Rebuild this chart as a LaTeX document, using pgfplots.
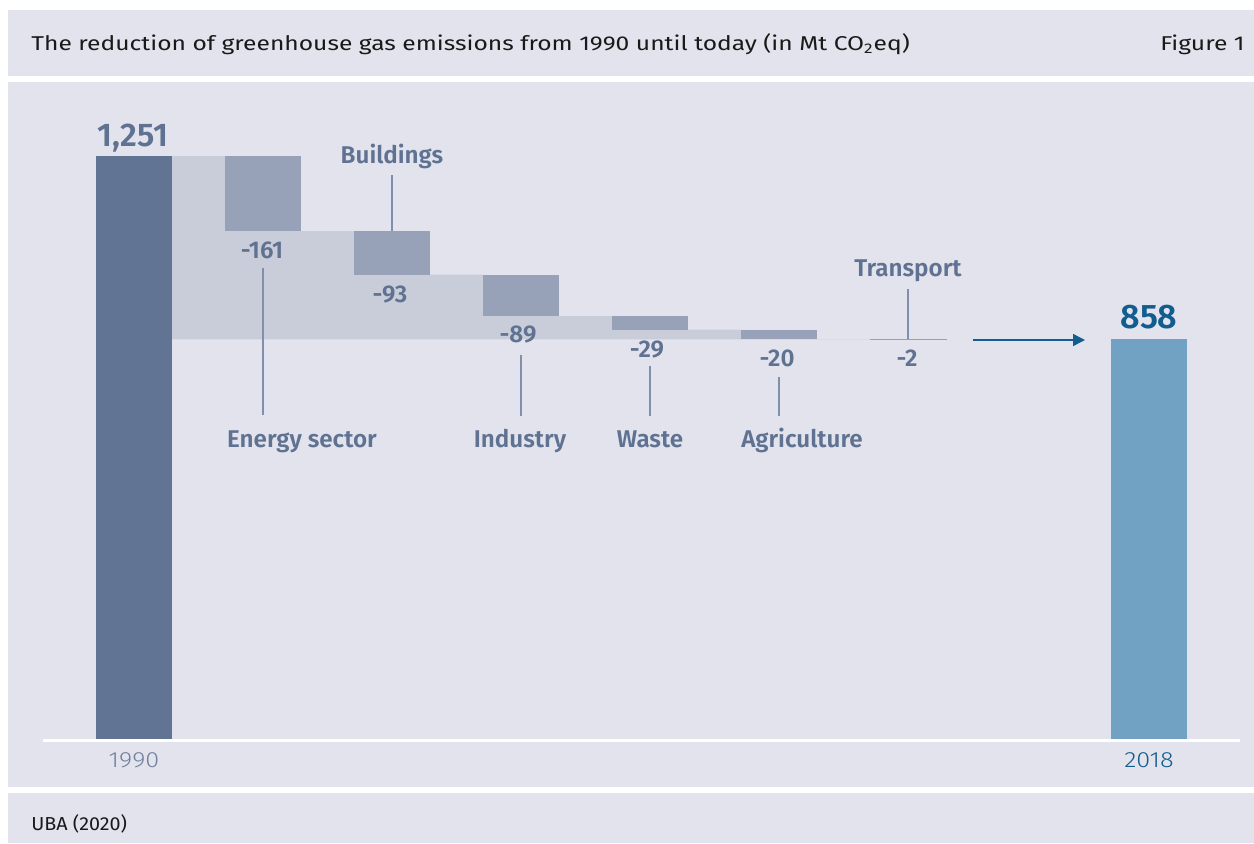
\documentclass[border=0pt]{standalone}
\usepackage{pgfplots}
\pgfplotsset{compat=1.18}
\usetikzlibrary{arrows.meta}
\usepackage{fontspec}
\setmainfont{Fira Sans}
\newfontfamily\titlefont{Fira Sans}[FakeStretch=1.23]
\newfontfamily\srcfont{Fira Sans}[FakeStretch=1.05]
\newfontfamily\lblfont{Fira Sans SemiBold}
\newfontfamily\lightfont{Fira Sans Light}[FakeStretch=1.15]
\definecolor{panel}{RGB}{226,227,236}
\definecolor{cold}{RGB}{97,116,148}
\definecolor{cchange}{RGB}{151,162,184}
\definecolor{cband}{RGB}{201,205,218}
\definecolor{cnew}{RGB}{114,162,195}
\definecolor{cdark}{RGB}{18,93,143}
\definecolor{ctext}{RGB}{95,114,146}
\definecolor{cline}{RGB}{128,143,170}
\definecolor{clight}{RGB}{112,130,160}
\begin{document}
\begin{tikzpicture}
\begin{scope}[x=0.5pt,y=-0.5pt]
\useasboundingbox (0,0) rectangle (1254,843);
\fill[white] (0,0) rectangle (1254,843);
\fill[panel] (8,10) rectangle (1254,76);
\fill[panel] (8,82) rectangle (1254,787);
\fill[panel] (8,793) rectangle (1254,843);
\node[anchor=base west, inner sep=0pt, text=black!90, font=\titlefont\fontsize{10pt}{12pt}\selectfont] at (31,50) {The reduction of greenhouse gas emissions from 1990 until today (in Mt CO\textsubscript{2}eq)};
\node[anchor=base east, inner sep=0pt, text=black!90, font=\titlefont\fontsize{10pt}{12pt}\selectfont] at (1245,50) {Figure 1};
\node[anchor=base west, inner sep=0pt, text=black!90, font=\srcfont\fontsize{9.4pt}{11pt}\selectfont] at (31,830) {UBA (2020)};
\end{scope}
\begin{axis}[
  at={(21.5pt,-370pt)}, anchor=south west,
  scale only axis, width=598.5pt, height=320pt,
  xmin=-0.7054, xmax=8.5736, ymin=0, ymax=1371,
  axis lines=none, ticks=none, clip=false]
% light band (cumulative level down to 2018 level)
\addplot[fill=cband, draw=none] coordinates {
 (0.2946,858) (0.2946,1251) (0.7054,1251) (0.7054,1090) (1.7054,1090)
 (1.7054,997) (2.7054,997) (2.7054,908) (3.7054,908) (3.7054,879)
 (4.7054,879) (4.7054,859) (5.7054,859) (5.7054,858)} -- cycle;
% 1990
\addplot[fill=cold, draw=none] coordinates {(-0.2946,0) (0.2946,0) (0.2946,1251) (-0.2946,1251)} -- cycle;
% changes
\addplot[fill=cchange, draw=none] coordinates {(0.7054,1090) (1.2946,1090) (1.2946,1251) (0.7054,1251)} -- cycle;
\addplot[fill=cchange, draw=none] coordinates {(1.7054,997) (2.2946,997) (2.2946,1090) (1.7054,1090)} -- cycle;
\addplot[fill=cchange, draw=none] coordinates {(2.7054,908) (3.2946,908) (3.2946,997) (2.7054,997)} -- cycle;
\addplot[fill=cchange, draw=none] coordinates {(3.7054,879) (4.2946,879) (4.2946,908) (3.7054,908)} -- cycle;
\addplot[fill=cchange, draw=none] coordinates {(4.7054,859) (5.2946,859) (5.2946,879) (4.7054,879)} -- cycle;
\addplot[fill=cchange, draw=cchange, line width=0.5pt] coordinates {(5.7054,857) (6.2946,857) (6.2946,859) (5.7054,859)} -- cycle;
% 2018
\addplot[fill=cnew, draw=none] coordinates {(7.5736,0) (8.1628,0) (8.1628,858) (7.5736,858)} -- cycle;
\end{axis}
\begin{scope}[x=0.5pt,y=-0.5pt]
\draw[white, line width=1.5pt] (43,740) -- (1240,740);
% leader lines
\begin{scope}[cline, line width=0.75pt]
\draw (263,268) -- (263,415);
\draw (392,175) -- (392,231);
\draw (521,355) -- (521,416);
\draw (650,366) -- (650,416);
\draw (779,377) -- (779,416);
\draw (908,289) -- (908,339);
\end{scope}
\draw[cdark, line width=0.75pt, -{Triangle[length=6pt,width=6pt]}] (973,340) -- (1085,340);
% labels
\begin{scope}[every node/.style={inner sep=0pt, anchor=base, text=ctext, font=\lblfont\fontsize{12.1pt}{14pt}\selectfont}]
\node at (392,163) {Buildings};
\node at (908,276) {Transport};
\node at (302,447) {Energy sector};
\node at (520,447) {Industry};
\node at (650,447) {Waste};
\node at (802,447) {Agriculture};
\node at (262,258) {-161};
\node at (390,302) {-93};
\node at (518,342.5) {-89};
\node at (647,357) {-29};
\node at (777,366.5) {-20};
\node at (907,366.5) {-2};
\node[font=\lblfont\fontsize{16.4pt}{18pt}\selectfont] at (133,146) {1,251};
\node[font=\lblfont\fontsize{17pt}{19pt}\selectfont, text=cdark] at (1149,328) {858};
\node[font=\lightfont\fontsize{11pt}{13pt}\selectfont, text=clight] at (134,767) {1990};
\node[font=\lightfont\fontsize{11pt}{13pt}\selectfont, text=cdark] at (1149,767) {2018};
\end{scope}
\end{scope}
\end{tikzpicture}
\end{document}
